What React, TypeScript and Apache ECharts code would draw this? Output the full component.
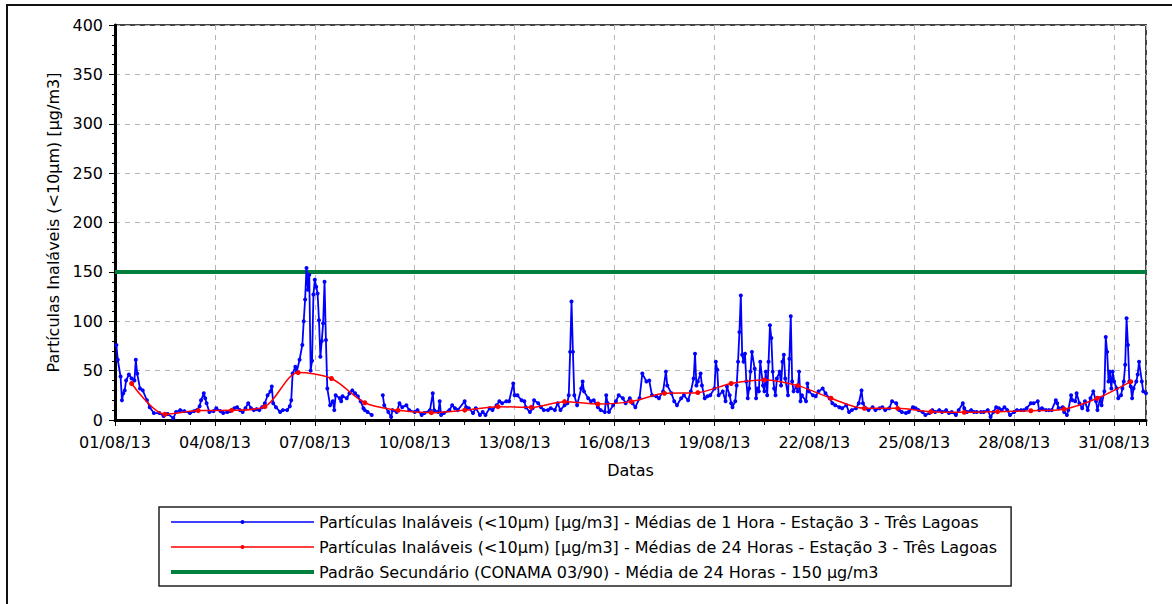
import React, { useEffect, useRef } from "react";
import * as echarts from "echarts";

const FONT = "DejaVu Sans";

// Hourly PM10 readings: [hours since 01/08/13 00:00, µg/m3]; null = missing data
const hourlyPM10: [number, number | null][] = [
  [1,76],[2,61],[4,44],[5,20],[6,27],[7,30],[8,40],[10,46],[12,42],[14,40],[15,61],[16,47],[18,32],[20,30],[23,20],
  [25,13],[28,7],[32,7],[35,4],[38,6],[42,2],[44,8],[47,10],[50,9],[54,7],[57,9],[59,10],[61,14],[62,20],[64,27],[65,22],[66,17],[68,8],[71,9],
  [73,12],[76,9],[78,7],[81,8],[83,9],[86,12],[88,13],[90,10],[92,8],[94,12],[96,17],[98,12],[100,10],[102,11],[104,10],[106,13],[108,17],[110,25],[112,29],[113,34],[114,17],[116,13],[119,8],
  [121,10],[124,10],[126,14],[127,20],[128,47],[130,54],[131,49],[133,61],[135,76],[136,100],[137,122],[138,154],[139,132],[140,147],[141,50],[142,60],[143,127],
  [144,142],[145,135],[146,128],[147,101],[148,64],[149,80],[150,98],[151,140],[152,81],[153,32],[155,15],[157,19],[158,10],[159,25],[162,22],[163,19],[164,24],[167,22],
  [169,27],[171,30],[173,27],[175,24],[177,19],[179,12],[180,10],[182,8],[185,5],[189,null],
  [193,25],[194,15],[197,8],[199,3],[200,10],[203,8],[205,17],[207,13],[210,15],[212,10],[216,8],[218,10],[221,5],[223,7],[227,10],[229,27],[230,10],[233,8],[234,19],[235,5],[237,7],
  [241,10],[243,15],[245,12],[247,10],[252,19],[253,13],[255,12],[258,7],[260,12],[263,5],[265,8],[267,5],[270,12],[272,10],[275,15],[277,19],[279,17],[282,19],[284,19],[287,37],[288,25],[290,25],[293,20],
  [295,19],[296,13],[299,8],[301,12],[302,20],[305,17],[307,13],[309,10],[312,10],[314,12],[317,10],[319,17],[321,10],[324,15],[326,17],[327,25],[328,69],[329,120],[330,69],[331,25],[333,15],[336,32],[337,39],[338,29],
  [341,22],[343,19],[345,20],[348,13],[350,10],[353,8],[354,25],[355,17],[356,8],[359,15],[361,19],[363,25],[366,22],[368,17],[371,22],[373,17],[375,13],[378,22],[380,47],[383,39],[385,40],[387,25],
  [390,24],[392,22],[395,29],[397,49],[398,35],[401,27],[403,19],[405,15],[408,22],[410,25],[413,20],[415,29],[417,42],[418,67],[419,35],[420,39],[422,47],[423,35],[425,22],[427,24],[429,25],[432,32],[433,59],[434,51],[435,25],[438,29],[440,19],
  [441,34],[443,25],[444,17],[445,13],[447,19],[448,35],[449,59],[450,89],[451,126],[452,66],[453,59],[454,67],[455,39],[456,22],[457,32],[458,49],[459,69],[461,52],[462,22],[463,32],[464,29],[465,59],[467,35],[468,29],[469,49],[470,25],
  [471,59],[472,96],[473,83],[474,49],[475,32],[476,25],[477,42],[479,49],[480,35],[481,59],[482,66],[483,42],[485,25],[486,62],[487,105],[488,39],[489,29],[491,34],[492,29],[493,49],[494,19],[495,25],[498,19],[499,37],[500,29],
  [503,25],[505,24],[507,29],[510,32],[512,27],[515,22],[517,17],[519,15],[522,13],[524,12],[527,15],[529,8],[531,10],[534,12],[536,17],[538,30],[539,17],[541,12],[543,10],[546,13],[548,10],[551,12],[553,13],[555,10],[558,12],
  [560,19],[563,17],[565,10],[567,8],[570,7],[572,8],[575,13],[577,12],[579,10],[582,8],[584,5],[587,7],
  [589,10],[591,8],[594,10],[596,8],[599,10],[601,7],[603,8],[606,5],[608,10],[611,17],[612,12],[614,8],[617,10],[619,8],[621,8],[624,8],[626,8],[629,10],[631,3],[633,8],[635,13],[637,12],[639,10],[641,13],[643,10],[645,5],[648,8],
  [650,10],[653,10],[655,10],[657,12],[660,17],[662,17],[665,19],[666,10],[668,12],[671,10],[673,10],[675,10],[678,20],[679,17],[680,12],[683,13],[684,8],[686,5],[687,10],[689,25],[690,20],[692,19],[693,27],[695,17],[697,12],[699,19],
  [701,10],[703,22],[705,29],[707,19],[708,10],[710,22],[711,15],[713,29],[714,84],[715,69],[716,39],[717,49],[718,32],[719,49],[720,39],[722,32],[723,22],[725,25],[726,32],[727,39],[728,56],[729,103],[730,76],[731,39],[732,34],
  [733,22],[734,32],[736,39],[737,46],[738,59],[740,39],[741,29],[743,27],
];

// 24-hour means, one per day (plotted at noon of each day, 01/08 .. 31/08)
const dailyPM10: number[] = [
  37, 5.8, 9.5, 9.8, 13.5, 48, 42, 17.5, 9.8, 7.4, 10, 13.5, 12.8, 18.6, 16.2, 18.6,
  27, 27.7, 37, 40.5, 34.8, 22, 11.8, 11.8, 8.4, 7.8, 8.4, 9.4, 11, 22, 38.8,
];

const standardLimit = 150;
const periodHours: [number, number] = [0, 743];
const dateSuffix = "/08/13";

const seriesNames = [
  "Partículas Inaláveis (<10µm) [µg/m3] - Médias de 1 Hora - Estação 3 - Três Lagoas",
  "Partículas Inaláveis (<10µm) [µg/m3] - Médias de 24 Horas - Estação 3 - Três Lagoas",
  "Padrão Secundário (CONAMA 03/90) - Média de 24 Horas - 150 µg/m3",
];
const yAxisTitle = "Partículas Inaláveis (<10µm) [µg/m3]";
const xAxisTitle = "Datas";

const BLUE = "#0000ff";
const RED = "#ff0000";
const GREEN = "#00803c";

export default function App() {
  const ref = useRef<HTMLDivElement>(null);
  useEffect(() => {
    if (!ref.current) return;
    const chart = echarts.init(ref.current, undefined, { renderer: "svg" });
    const textBase = { fontFamily: FONT, fontSize: 16, color: "#000" };
    chart.setOption({
      animation: false,
      backgroundColor: "#fff",
      graphic: [
        {
          type: "rect",
          shape: { x: 7, y: 5, width: 1200, height: 640 },
          style: { fill: "none", stroke: "#111", lineWidth: 2 },
          silent: true,
        },
      ],
      grid: {
        left: 115,
        right: 26,
        top: 25,
        bottom: 184,
        show: true,
        borderColor: "#444",
        borderWidth: 2,
        backgroundColor: "transparent",
      },
      legend: {
        orient: "vertical",
        left: 159,
        top: 507,
        itemWidth: 143,
        itemHeight: 5,
        itemGap: 9,
        padding: [7, 14, 6, 10],
        borderColor: "#222",
        borderWidth: 1.5,
        backgroundColor: "#fff",
        textStyle: { ...textBase },
        data: [
          { name: seriesNames[0], lineStyle: { width: 1.5 }, itemStyle: { color: BLUE } },
          { name: seriesNames[1], lineStyle: { width: 1.5 }, itemStyle: { color: RED } },
          { name: seriesNames[2], lineStyle: { width: 4, color: GREEN }, itemStyle: { opacity: 0 } },
        ],
      },
      xAxis: {
        type: "value",
        min: periodHours[0],
        max: periodHours[1],
        interval: 72,
        name: xAxisTitle,
        nameLocation: "middle",
        nameGap: 42,
        nameTextStyle: { ...textBase },
        axisLine: { show: true, lineStyle: { color: "#000", width: 3 } },
        axisTick: { show: true, length: 6, lineStyle: { color: "#000", width: 1 } },
        minorTick: { show: true, splitNumber: 4, length: 5, lineStyle: { color: "#000", width: 1 } },
        axisLabel: {
          ...textBase,
          margin: 14,
          showMaxLabel: false,
          formatter: (v: number) => {
            const d = Math.round(v / 24) + 1;
            return String(d).padStart(2, "0") + dateSuffix;
          },
        },
        splitLine: { show: true, lineStyle: { color: "#b5b5b5", type: [5, 5], width: 1 } },
      },
      yAxis: {
        type: "value",
        min: 0,
        max: 400,
        interval: 50,
        name: yAxisTitle,
        nameLocation: "middle",
        nameGap: 52,
        nameTextStyle: { ...textBase },
        axisLine: { show: true, lineStyle: { color: "#000", width: 3 } },
        axisTick: { show: true, length: 6, lineStyle: { color: "#000", width: 1 } },
        minorTick: { show: true, splitNumber: 5, length: 3, lineStyle: { color: "#000", width: 1 } },
        axisLabel: { ...textBase, margin: 12 },
        splitLine: { show: true, lineStyle: { color: "#b5b5b5", type: [5, 5], width: 1 } },
      },
      series: [
        {
          name: seriesNames[0],
          type: "line",
          z: 3,
          data: hourlyPM10.map(([h, v]) => [h, v === null ? "-" : v]),
          connectNulls: false,
          symbol: "circle",
          symbolSize: 4,
          showSymbol: true,
          lineStyle: { color: BLUE, width: 1.8 },
          itemStyle: { color: BLUE },
          emphasis: { disabled: true },
        },
        {
          name: seriesNames[1],
          type: "line",
          z: 4,
          data: dailyPM10.map((v, i) => [i * 24 + 12, v]),
          smooth: 0.3,
          symbol: "circle",
          symbolSize: 5,
          lineStyle: { color: RED, width: 1.5 },
          itemStyle: { color: RED },
          emphasis: { disabled: true },
        },
        {
          name: seriesNames[2],
          type: "line",
          z: 2,
          data: periodHours.map((h) => [h, standardLimit]),
          symbol: "none",
          lineStyle: { color: GREEN, width: 4 },
          itemStyle: { color: GREEN },
          emphasis: { disabled: true },
        },
      ],
    });
    return () => chart.dispose();
  }, []);
  return (
    <div
      ref={ref}
      style={{ position: "fixed", left: 0, top: 0, width: 1172, height: 604 }}
    />
  );
}
